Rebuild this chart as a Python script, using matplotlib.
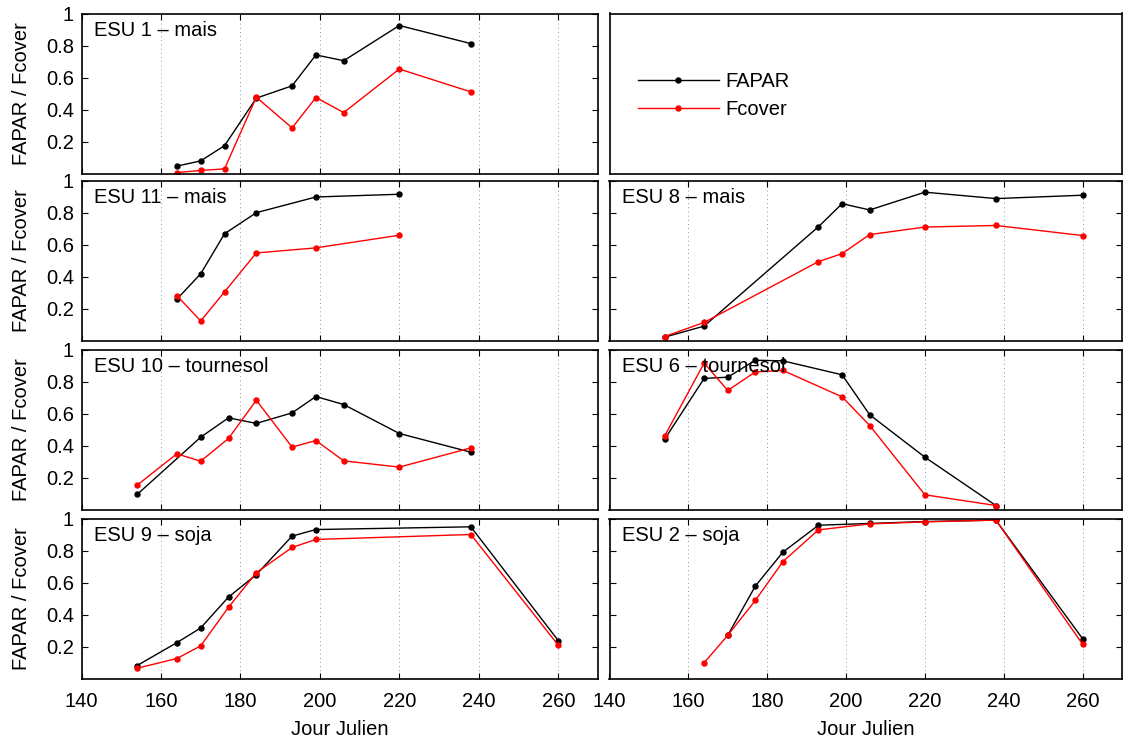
import matplotlib
matplotlib.use("Agg")
import matplotlib.pyplot as plt

plt.rcParams['font.family'] = ['Liberation Sans', 'DejaVu Sans']
plt.rcParams['font.size'] = 14.5

# Données : jours juliens et valeurs FAPAR / Fcover par ESU
esu1_titre = "ESU 1 – mais"
esu1_jours = [164, 170, 176, 184, 193, 199, 206, 220, 238]
esu1_fapar = [0.046, 0.079, 0.174, 0.471, 0.548, 0.741, 0.705, 0.925, 0.812]
esu1_fcover = [0.006, 0.019, 0.029, 0.477, 0.285, 0.475, 0.381, 0.653, 0.510]

esu11_titre = "ESU 11 – mais"
esu11_jours = [164, 170, 176, 184, 199, 220]
esu11_fapar = [0.258, 0.417, 0.667, 0.799, 0.897, 0.914]
esu11_fcover = [0.281, 0.122, 0.304, 0.547, 0.579, 0.658]

esu8_titre = "ESU 8 – mais"
esu8_jours = [154, 164, 193, 199, 206, 220, 238, 260]
esu8_fapar = [0.021, 0.090, 0.711, 0.855, 0.816, 0.927, 0.887, 0.908]
esu8_fcover = [0.025, 0.113, 0.493, 0.543, 0.662, 0.709, 0.719, 0.656]

esu10_titre = "ESU 10 – tournesol"
esu10_jours_fapar = [154, 170, 177, 184, 193, 199, 206, 220, 238]
esu10_fapar = [0.094, 0.452, 0.573, 0.538, 0.604, 0.706, 0.656, 0.475, 0.358]
esu10_jours_fcover = [154, 164, 170, 177, 184, 193, 199, 206, 220, 238]
esu10_fcover = [0.152, 0.348, 0.302, 0.444, 0.683, 0.390, 0.431, 0.304, 0.265, 0.385]

esu6_titre = "ESU 6 – tournesol"
esu6_jours = [154, 164, 170, 177, 184, 199, 206, 220, 238]
esu6_fapar = [0.440, 0.819, 0.827, 0.933, 0.929, 0.842, 0.592, 0.327, 0.025]
esu6_fcover = [0.460, 0.915, 0.744, 0.860, 0.869, 0.704, 0.525, 0.092, 0.025]

esu9_titre = "ESU 9 – soja"
esu9_jours = [154, 164, 170, 177, 184, 193, 199, 238, 260]
esu9_fapar = [0.081, 0.224, 0.316, 0.509, 0.649, 0.890, 0.931, 0.948, 0.237]
esu9_fcover = [0.064, 0.125, 0.204, 0.445, 0.661, 0.819, 0.869, 0.900, 0.208]

esu2_titre = "ESU 2 – soja"
esu2_jours_fapar = [170, 177, 184, 193, 206, 220, 238, 260]
esu2_fapar = [0.270, 0.578, 0.790, 0.958, 0.969, 0.981, 0.990, 0.249]
esu2_jours_fcover = [164, 170, 177, 184, 193, 206, 220, 238, 260]
esu2_fcover = [0.098, 0.270, 0.488, 0.731, 0.929, 0.966, 0.979, 0.990, 0.214]

xticks = [140, 160, 180, 200, 220, 240, 260]
yticks = [0.2, 0.4, 0.6, 0.8, 1.0]
ytick_labels = ['0.2', '0.4', '0.6', '0.8', '1']

panneaux = [
    (0, 0, esu1_titre, esu1_jours, esu1_fapar, esu1_jours, esu1_fcover),
    (1, 0, esu11_titre, esu11_jours, esu11_fapar, esu11_jours, esu11_fcover),
    (1, 1, esu8_titre, esu8_jours, esu8_fapar, esu8_jours, esu8_fcover),
    (2, 0, esu10_titre, esu10_jours_fapar, esu10_fapar, esu10_jours_fcover, esu10_fcover),
    (2, 1, esu6_titre, esu6_jours, esu6_fapar, esu6_jours, esu6_fcover),
    (3, 0, esu9_titre, esu9_jours, esu9_fapar, esu9_jours, esu9_fcover),
    (3, 1, esu2_titre, esu2_jours_fapar, esu2_fapar, esu2_jours_fcover, esu2_fcover),
]

W, H = 1125, 740
fig = plt.figure(figsize=(W / 100, H / 100), dpi=100)

col_left = [81.5, 609.5]
col_width = [516.5, 512.5]
row_bottom = [173.5, 340.5, 509.5, 678.5]
row_h = 160


def make_axes(r, c):
    return fig.add_axes([col_left[c] / W, 1 - row_bottom[r] / H,
                         col_width[c] / W, row_h / H])


for r, c, titre, jf, fapar, jc, fcover in panneaux:
    ax = make_axes(r, c)
    ax.plot(jf, fapar, '-', color='black', lw=1.0, marker='o', ms=3.6, label='FAPAR')
    ax.plot(jc, fcover, '-', color='red', lw=1.0, marker='o', ms=3.6, label='Fcover')
    ax.set_xlim(140, 270)
    ax.set_ylim(0, 1)
    ax.set_xticks(xticks)
    ax.set_yticks(yticks)
    ax.grid(axis='x', color='0.45', linestyle=(0, (1, 4)), lw=0.6)
    ax.tick_params(direction='in', top=True, right=True, length=4, width=0.8)
    ax.tick_params(axis='y', pad=5.5)
    ax.tick_params(axis='x', pad=10)
    for s in ax.spines.values():
        s.set_linewidth(1.2)
    if c == 0:
        ax.set_yticklabels(ytick_labels)
        ax.set_ylabel('FAPAR / Fcover', labelpad=11)
    else:
        ax.set_yticklabels([])
    if r == 3:
        ax.set_xlabel('Jour Julien', labelpad=6)
    else:
        ax.set_xticklabels([])
    ax.text(0.025, 0.895, titre, transform=ax.transAxes, ha='left', va='center')

# panneau de légende (en haut à droite)
ax_leg = make_axes(0, 1)
ax_leg.set_xticks([])
ax_leg.set_yticks([])
for s in ax_leg.spines.values():
    s.set_linewidth(1.2)
h1, = ax_leg.plot([], [], '-', color='black', lw=1.0, marker='o', ms=3.6)
h2, = ax_leg.plot([], [], '-', color='red', lw=1.0, marker='o', ms=3.6)
ax_leg.legend([h1, h2], ['FAPAR', 'Fcover'], loc='upper left',
              bbox_to_anchor=(0.056, 0.632), frameon=False, borderpad=0,
              borderaxespad=0, handlelength=4.0, handletextpad=0.35,
              labelspacing=0.45, numpoints=1)

fig.savefig('out.png', dpi=100)
